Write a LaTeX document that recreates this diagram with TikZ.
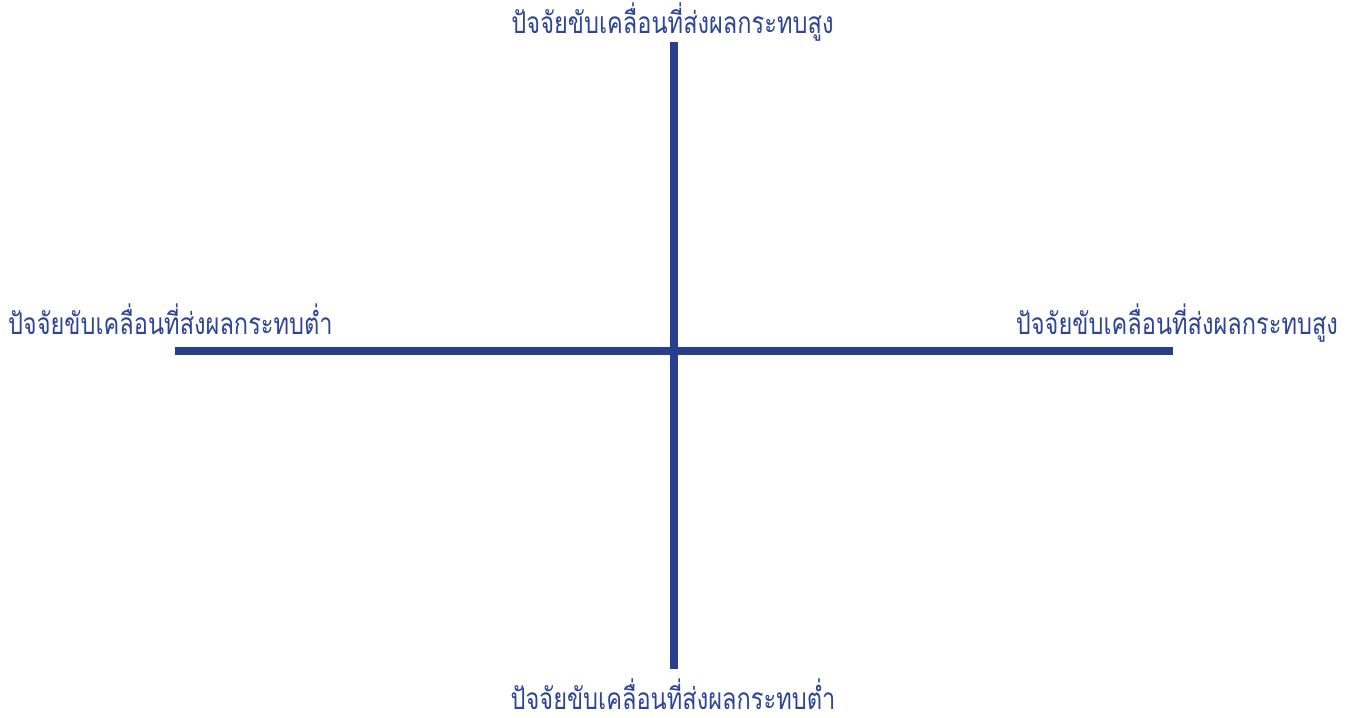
\documentclass[tikz,border=0pt]{standalone}
\usepackage{fontspec}
\newfontfamily\thaifont[Script=Thai]{Loma}
\usepackage{graphicx}
\usepackage{tikz}
\definecolor{AxisBlue}{RGB}{40,62,143}
\definecolor{LabelBlue}{RGB}{46,68,150}
\newcommand{\axlabel}[1]{\scalebox{0.79}[1]{#1}}

\begin{document}
\begin{tikzpicture}[
x=1cm,
y=1cm,
every node/.style={font=\thaifont\fontsize{17}{20}\selectfont,text=LabelBlue,inner sep=0pt,outer sep=0pt},
axisline/.style={draw=AxisBlue,line width=4.55pt,line cap=butt}
]

\path[use as bounding box] (0,0) rectangle (27.10,14.34);

\coordinate (ytop) at (13.48,13.50);
\coordinate (ybot) at (13.48,0.96);
\coordinate (xleft) at (3.50,7.32);
\coordinate (xright) at (23.45,7.32);

\draw[axisline] (xleft) -- (xright);
\draw[axisline] (ybot) -- (ytop);

\node[anchor=base] (hightop) at (13.45,13.66) {\axlabel{ปัจจัยขับเคลื่อนที่ส่งผลกระทบสูง}};
\node[anchor=base] (lowbot) at (13.46,0.16) {\axlabel{ปัจจัยขับเคลื่อนที่ส่งผลกระทบต่ำ}};
\node[anchor=base west] (lowleft) at (0.16,7.64) {\axlabel{ปัจจัยขับเคลื่อนที่ส่งผลกระทบต่ำ}};
\node[anchor=base east] (highright) at (26.76,7.64) {\axlabel{ปัจจัยขับเคลื่อนที่ส่งผลกระทบสูง}};

\end{tikzpicture}
\end{document}
